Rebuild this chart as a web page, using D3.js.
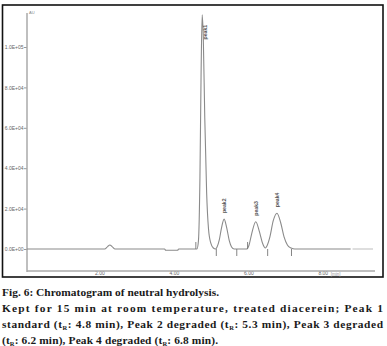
<!DOCTYPE html>
<html><head><meta charset="utf-8">
<script src="https://cdn.jsdelivr.net/npm/d3@7"></script>
<style>body{margin:0;background:#fff}svg{display:block}</style>
</head><body>
<script>
// ---- data ----
const traceTime = [0.05,2.14,2.22,2.28,2.34,2.42,3.75,3.78,4.10,4.13,4.62,4.66,4.70,4.73,4.76,4.79,4.83,4.88,4.93,4.99,5.06,5.12,5.16,5.22,5.28,5.35,5.42,5.49,5.55,5.62,5.95,6.02,6.09,6.20,6.30,6.38,6.46,6.50,6.58,6.67,6.77,6.87,6.96,7.05,7.15,7.25,8.75];
const traceValue = [0,0,1200,2000,1200,0,0,-600,-600,0,0,4000,35000,85000,116000,105000,65000,28000,10000,3000,500,0,1000,4500,10500,14800,10500,4000,1000,0,0,2000,7500,13500,8500,3000,500,1500,6000,14000,17700,13000,6000,2000,500,0,0];
const extTime = [8.80, 9.35];
const extValue = [0, 0];
const peakNames = ["peak1","peak2","peak3","peak4"];
const peakTime = [4.76,5.35,6.20,6.77];
const peakTop = [116000,14800,13500,17700];
const markTime = [4.59,5.14,5.69,5.98,6.52,7.16];
const markDir = [1,-1,-1,1,-1,-1];
const yTicks = [0,20000,40000,60000,80000,100000];
const yTickLabels = ["0.0E+00","2.0E+04","4.0E+04","6.0E+04","8.0E+04","1.0E+05"];
const xTicks = [2,4,6,8];
const xTickLabels = ["2.00","4.00","6.00","8.00"];
const captionTitle = "Fig. 6: Chromatogram of neutral hydrolysis.";

const W=387,H=346;
const svg=d3.select("body").append("svg").attr("width",W).attr("height",H);

// outer frame
svg.append("rect").attr("x",2.5).attr("y",5).attr("width",380.5).attr("height",272)
  .attr("fill","none").attr("stroke","#111").attr("stroke-width",1.6);

const x=d3.scaleLinear().domain([0,9.35]).range([25,373]);
const y=d3.scaleLinear().domain([0,100000]).range([249,47]);

const sans="'Liberation Sans', Arial, sans-serif";
// y axis
const gy=svg.append("g").attr("transform","translate(27,0)")
  .call(d3.axisLeft(y).tickValues(yTicks).tickSize(3).tickFormat((d,i)=>yTickLabels[i]));
gy.select(".domain").remove();
gy.selectAll(".tick line").attr("stroke","#999");
gy.selectAll(".tick text").attr("font-family",sans).attr("font-size",5).attr("fill","#666").attr("x",-3.5);
svg.append("line").attr("x1",27).attr("x2",27).attr("y1",13).attr("y2",272).attr("stroke","#aaa").attr("stroke-width",1.5);
svg.append("text").attr("x",29).attr("y",14).attr("font-size",4).attr("font-family",sans).attr("fill","#888").text("AU");

// x axis
const gx=svg.append("g").attr("transform","translate(0,271)")
  .call(d3.axisBottom(x).tickValues(xTicks).tickSize(0).tickFormat((d,i)=>xTickLabels[i]));
gx.select(".domain").remove();
gx.selectAll(".tick text").attr("font-family",sans).attr("font-size",5).attr("fill","#666").attr("dy","0.55em").attr("y",1);
svg.append("line").attr("x1",27).attr("x2",375).attr("y1",271).attr("y2",271).attr("stroke","#aaa").attr("stroke-width",1.3);
svg.append("text").attr("x",x(8)+8).attr("y",276).attr("font-size",4.5).attr("font-family",sans).attr("fill","#999").text("[min]");

// trace
const line=d3.line().x(d=>x(d[0])).y(d=>y(d[1])).curve(d3.curveMonotoneX);
svg.append("path").attr("d",line(traceTime.map((t,i)=>[t,traceValue[i]])))
  .attr("fill","none").attr("stroke","#8a8a8a").attr("stroke-width",1.1);
svg.append("path").attr("d",line(extTime.map((t,i)=>[t,extValue[i]])))
  .attr("fill","none").attr("stroke","#c4c4c4").attr("stroke-width",1.1);

// integration marks
svg.selectAll("line.mark").data(markTime).join("line").attr("class","mark")
  .attr("x1",d=>x(d)).attr("x2",d=>x(d))
  .attr("y1",y(0)).attr("y2",(d,i)=>y(0)-markDir[i]*7)
  .attr("stroke","#777").attr("stroke-width",0.9);

// peak labels
svg.selectAll("text.pk").data(peakNames).join("text").attr("class","pk")
  .attr("transform",(d,i)=>`translate(${x(peakTime[i])+(i===0?5:2)},${y(Math.min(peakTop[i],112000))-(i===0?-2:6)}) rotate(-90)`)
  .attr("font-family",sans).attr("font-size",5.2).attr("font-weight","bold").attr("fill","#555")
  .attr("text-anchor",(d,i)=>i===0?"end":"start").text(d=>d);

// caption
const cap=svg.append("g").attr("font-family","'Liberation Serif','DejaVu Serif',serif").attr("font-weight","bold").attr("font-size",11.4).attr("fill","#1a1a1a");
cap.append("text").attr("x",2).attr("y",295.5).attr("textLength",217).attr("lengthAdjust","spacing").text(captionTitle);
cap.append("text").attr("x",2).attr("y",311.5).attr("textLength",381).attr("lengthAdjust","spacing")
  .text("Kept for 15 min at room temperature, treated diacerein; Peak 1");
function addTr(t){ t.append("tspan").text("(t"); t.append("tspan").attr("font-size",6.5).attr("dy",2.5).text("R"); t.append("tspan").attr("dy",-2.5).text(": "); }
const l3=cap.append("text").attr("x",2).attr("y",327.5).attr("textLength",381).attr("lengthAdjust","spacing");
l3.append("tspan").text("standard "); addTr(l3); l3.append("tspan").text("4.8 min), Peak 2 degraded "); addTr(l3); l3.append("tspan").text("5.3 min), Peak 3 degraded");
const l4=cap.append("text").attr("x",2).attr("y",343.5).attr("textLength",216).attr("lengthAdjust","spacing");
addTr(l4); l4.append("tspan").text("6.2 min), Peak 4 degraded "); addTr(l4); l4.append("tspan").text("6.8 min).");
</script>
</body></html>
